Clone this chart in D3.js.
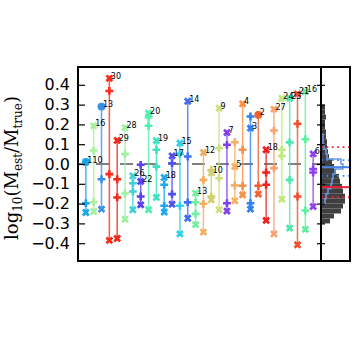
<!DOCTYPE html>
<html>
<head>
<meta charset="utf-8">
<script src="https://cdn.jsdelivr.net/npm/d3@7"></script>
<style>
  body { margin: 0; background: #fff; }
  svg { display: block; }
  .tick text { font-family: "DejaVu Sans", sans-serif; font-size: 16px; fill: #000; }
  .tick line { stroke: #000; stroke-width: 1.2; }
  .lbl { font-family: "DejaVu Sans", sans-serif; font-size: 8px; fill: #000; }
</style>
</head>
<body>
<svg id="chart" width="357" height="357"></svg>
<script>
// one entry per object, left to right
const LABELS = ["110", "16", "13", "30", "29", "28", "26", "22", "20", "19", "18", "17", "15", "14", "13",
                "12", "10", "9", "7", "5", "4", "3", "2", "18", "27", "24", "23", "21", "16", "6"];
// labelled "x" marker and the other "x" marker
const X_TOP = [0.01, 0.193, 0.29, 0.433, 0.119, 0.184, -0.06, -0.088, 0.257, 0.118, -0.068, 0.041, 0.105, 0.317, -0.147,
               0.058, -0.045, 0.282, 0.159, -0.013, 0.304, 0.181, 0.248, 0.072, 0.277, 0.332, 0.332, 0.354, 0.366, 0.051];
const X_BOT = [-0.245, -0.24, -0.228, -0.386, -0.376, -0.279, -0.231, -0.206, -0.231, -0.169, -0.243, -0.203, -0.353, -0.274, -0.306,
               -0.344, -0.181, -0.231, -0.238, -0.186, -0.156, -0.228, -0.152, -0.285, -0.353, -0.178, -0.324, -0.408, -0.33, -0.215];
// the two "+" markers
const PLUS_A = [0.01, 0.068, 0.29, 0.369, -0.077, 0.05, -0.097, -0.004, 0.237, 0.072, -0.105, 0.004, 0.051, 0.038, -0.193,
                -0.08, -0.03, 0.08, 0.097, 0.11, 0.072, 0.24, 0.248, -0.043, 0.169, 0.072, 0.109, 0.203, 0.125, -0.026];
const PLUS_B = [-0.198, -0.193, -0.077, -0.051, -0.169, -0.149, -0.139, -0.164, 0.193, -0.013, -0.211, -0.152, -0.211, -0.194, -0.252,
                -0.201, -0.165, -0.072, -0.198, -0.108, -0.11, -0.198, -0.11, -0.105, -0.021, 0.041, -0.08, -0.164, -0.235, -0.043];
const COLORS = ["#1aa8e8", "#a8f0a0", "#3a90e8", "#ff2a1a", "#f02818", "#a0f0a0", "#40d0d8", "#5a40f0", "#50f0b0", "#40e0c0",
                "#20a8f0", "#5050f0", "#30d0e8", "#4070f0", "#70f0a0", "#f0b060", "#d0d070", "#d0e080", "#8040f0", "#f8b060",
                "#f89048", "#3080f0", "#f06030", "#f02020", "#f8a070", "#c0e880", "#50e8b0", "#f05030", "#60f0a0", "#9040f0"];

const Y_TICKS = [-0.4, -0.3, -0.2, -0.1, 0, 0.1, 0.2, 0.3, 0.4];

// side histogram, all objects (filled) and subset (outline)
const HIST_EDGES = [0.3, 0.275, 0.25, 0.225, 0.2, 0.175, 0.15, 0.125, 0.1, 0.075, 0.05, 0.025, 0,
                    -0.025, -0.05, -0.075, -0.1, -0.125, -0.15, -0.175, -0.2, -0.225, -0.25, -0.275, -0.3];
const HIST_ALL = [4, 4, 5, 4, 4, 5, 5, 6, 6, 7, 8, 11, 13, 15, 18, 19, 21, 22, 24, 24, 22, 20, 13, 9];
const SUB_EDGES = [0.15, 0.125, 0.1, 0.075, 0.05, 0.025, 0, -0.025, -0.05, -0.075, -0.1, -0.125, -0.15, -0.175, -0.2];
const HIST_SUB = [2, 2, 3, 5, 6, 20, 22, 14, 12, 11, 10, 7, 5, 4];
const STATS_ALL = {med: -0.117, lo: -0.168, hi: 0.085};
const STATS_SUB = {med: -0.016, lo: -0.06, hi: 0.02};

const LEFT = 78, RIGHT = 321, TOP = 67, BOTTOM = 261, SIDE_RIGHT = 350;

const svg = d3.select("#chart");

let y = d3.scaleLinear().domain([-0.49, 0.49]).range([BOTTOM, TOP]);
let x = d3.scalePoint().domain(d3.range(LABELS.length)).range([LEFT, RIGHT]).padding(1);
let xh = d3.scaleLinear().domain([0, 29]).range([RIGHT, SIDE_RIGHT]);

// zero line
svg.append("line")
   .attr("x1", LEFT).attr("x2", RIGHT)
   .attr("y1", y(0)).attr("y2", y(0))
   .attr("stroke", "#7f7f7f")
   .attr("stroke-width", 2)
   .attr("stroke-dasharray", "13,11")
   .attr("stroke-dashoffset", 6);

const cross = d3.symbol().type(d3.symbolCross).size(34);
const xMark = d3.symbol().type(d3.symbolCross).size(38);

LABELS.forEach((lab, i) => {
  const vals = [X_TOP[i], X_BOT[i], PLUS_A[i], PLUS_B[i]];
  const g = svg.append("g");
  const cx = x(i);

  g.append("line")
   .attr("x1", cx).attr("x2", cx)
   .attr("y1", y(d3.max(vals))).attr("y2", y(d3.min(vals)))
   .attr("stroke", COLORS[i])
   .attr("stroke-width", 1.5)
   .attr("opacity", 0.8);

  [PLUS_A[i], PLUS_B[i]].forEach(v => {
    g.append("path").attr("d", cross)
     .attr("transform", `translate(${cx},${y(v)})`)
     .attr("fill", COLORS[i]);
  });
  [X_TOP[i], X_BOT[i]].forEach(v => {
    g.append("path").attr("d", xMark)
     .attr("transform", `translate(${cx},${y(v)}) rotate(45)`)
     .attr("fill", COLORS[i]);
  });
});

// labels on top of everything in the panel
svg.selectAll(".lbl")
   .data(LABELS)
   .enter().append("text")
   .attr("class", "lbl")
   .attr("x", (d, i) => x(i) + 1.5)
   .attr("y", (d, i) => y(X_TOP[i]) + 0.5)
   .text(d => d);

// side panel
const side = svg.append("g");
side.append("clipPath").attr("id", "sideclip")
    .append("rect").attr("x", RIGHT).attr("y", TOP).attr("width", SIDE_RIGHT - RIGHT).attr("height", BOTTOM - TOP);
const sideInner = side.append("g").attr("clip-path", "url(#sideclip)");

sideInner.selectAll(".bin")
    .data(HIST_ALL)
    .enter().append("rect")
    .attr("x", xh(0))
    .attr("y", (d, i) => y(HIST_EDGES[i]))
    .attr("width", d => xh(d) - xh(0))
    .attr("height", (d, i) => y(HIST_EDGES[i + 1]) - y(HIST_EDGES[i]))
    .attr("fill", "#3f3f3f");

let pts = [[0, SUB_EDGES[0]]];
HIST_SUB.forEach((c, i) => { pts.push([c, SUB_EDGES[i]]); pts.push([c, SUB_EDGES[i + 1]]); });
pts.push([0, SUB_EDGES[SUB_EDGES.length - 1]]);
sideInner.append("path")
    .attr("d", d3.line().x(d => xh(d[0])).y(d => y(d[1]))(pts))
    .attr("fill", "none")
    .attr("stroke", "#6a9ae8")
    .attr("stroke-width", 1.5);

const statLine = (v, color, dotted) => {
  sideInner.append("line")
      .attr("x1", RIGHT).attr("x2", SIDE_RIGHT)
      .attr("y1", y(v)).attr("y2", y(v))
      .attr("stroke", color)
      .attr("stroke-width", dotted ? 1.8 : 2)
      .attr("stroke-dasharray", dotted ? "1.8,3.6" : null);
};
statLine(STATS_SUB.med, "#4a86e8", false);
statLine(STATS_SUB.lo, "#4a86e8", true);
statLine(STATS_SUB.hi, "#4a86e8", true);
statLine(STATS_ALL.med, "#e8203a", false);
statLine(STATS_ALL.lo, "#e8203a", true);
statLine(STATS_ALL.hi, "#e8203a", true);

// axes
svg.append("g")
   .attr("transform", `translate(${LEFT},0)`)
   .call(d3.axisLeft(y).tickValues(Y_TICKS).tickSizeInner(-7).tickSizeOuter(0).tickPadding(8).tickFormat(d3.format(".1f")))
   .call(g => g.select(".domain").remove());

svg.append("g")
   .attr("transform", `translate(${RIGHT},0)`)
   .call(d3.axisRight(y).tickValues(Y_TICKS).tickSizeInner(-4).tickSizeOuter(0).tickFormat(""))
   .call(g => g.select(".domain").remove());

svg.append("g")
   .attr("transform", `translate(${RIGHT},0)`)
   .call(d3.axisLeft(y).tickValues(Y_TICKS).tickSizeInner(-4).tickSizeOuter(0).tickFormat(""))
   .call(g => g.select(".domain").remove());

// frames
svg.append("rect")
   .attr("x", LEFT).attr("y", TOP).attr("width", RIGHT - LEFT).attr("height", BOTTOM - TOP)
   .attr("fill", "none").attr("stroke", "#000").attr("stroke-width", 2);
svg.append("rect")
   .attr("x", RIGHT).attr("y", TOP).attr("width", SIDE_RIGHT - RIGHT).attr("height", BOTTOM - TOP)
   .attr("fill", "none").attr("stroke", "#000").attr("stroke-width", 2);

// y label
const ylab = svg.append("text")
   .attr("transform", `translate(18,${(TOP + BOTTOM) / 2 + 4}) rotate(-90)`)
   .attr("text-anchor", "middle")
   .style("font-family", "'DejaVu Serif', serif")
   .style("font-size", "18px");
ylab.append("tspan").text("log");
ylab.append("tspan").attr("dy", 4).style("font-size", "12px").text("10");
ylab.append("tspan").attr("dy", -4).text("(M");
ylab.append("tspan").attr("dy", 4).style("font-size", "12px").text("est");
ylab.append("tspan").attr("dy", -4).text("/M");
ylab.append("tspan").attr("dy", 4).style("font-size", "12px").text("true");
ylab.append("tspan").attr("dy", -4).text(")");
</script>
</body>
</html>
